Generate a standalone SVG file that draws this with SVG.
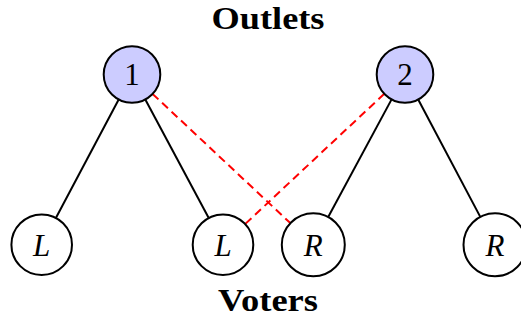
<svg xmlns="http://www.w3.org/2000/svg" width="521" height="320" viewBox="0 0 521 320">
<style>
.top{fill:#ccccff;stroke:#000;stroke-width:2}
.bot{fill:#fff;stroke:#000;stroke-width:2}
.lbl{font-family:"Liberation Serif",serif;font-size:31px;fill:#000;text-anchor:middle}
.it{font-style:italic}
.title{font-family:"Liberation Serif",serif;font-size:31px;font-weight:bold;fill:#000;text-anchor:middle}
.solid{stroke:#000;stroke-width:2;fill:none}
.dash{stroke:#ff0000;stroke-width:2;fill:none;stroke-dasharray:8 5}
</style>
<rect width="521" height="320" fill="#fff"/>
<text class="title" x="268" y="29" textLength="113" lengthAdjust="spacingAndGlyphs">Outlets</text>
<text class="title" x="268" y="311" textLength="100" lengthAdjust="spacingAndGlyphs">Voters</text>
<g id="connectors">
<line class="solid" x1="118.7" y1="99.5" x2="56.0" y2="217.8"/>
<line class="solid" x1="145.3" y1="99.5" x2="208.6" y2="217.8"/>
<line class="solid" x1="391.6" y1="99.4" x2="328.2" y2="217.0"/>
<line class="solid" x1="418.2" y1="99.5" x2="480.3" y2="216.9"/>
<line class="dash" x1="152.6" y1="93.9" x2="290.3" y2="223.1"/>
<line class="dash" x1="384.3" y1="93.8" x2="245.3" y2="223.9"/>
</g>
<g id="outlet1"><circle class="top" cx="132" cy="74.5" r="28.3"/><text class="lbl" x="132" y="85">1</text></g>
<g id="outlet2"><circle class="top" cx="405" cy="74.5" r="28.3"/><text class="lbl" x="405" y="85">2</text></g>
<g id="voterL1"><circle class="bot" cx="41.7" cy="244.7" r="30.3"/><text class="lbl it" x="41.7" y="256">L</text></g>
<g id="voterL2"><circle class="bot" cx="223" cy="244.7" r="30.3"/><text class="lbl it" x="223" y="256">L</text></g>
<g id="voterR1"><circle class="bot" cx="313.3" cy="244.7" r="31.5"/><text class="lbl it" x="313.3" y="256">R</text></g>
<g id="voterR2"><circle class="bot" cx="495" cy="244.7" r="31.5"/><text class="lbl it" x="495" y="256">R</text></g>
</svg>
